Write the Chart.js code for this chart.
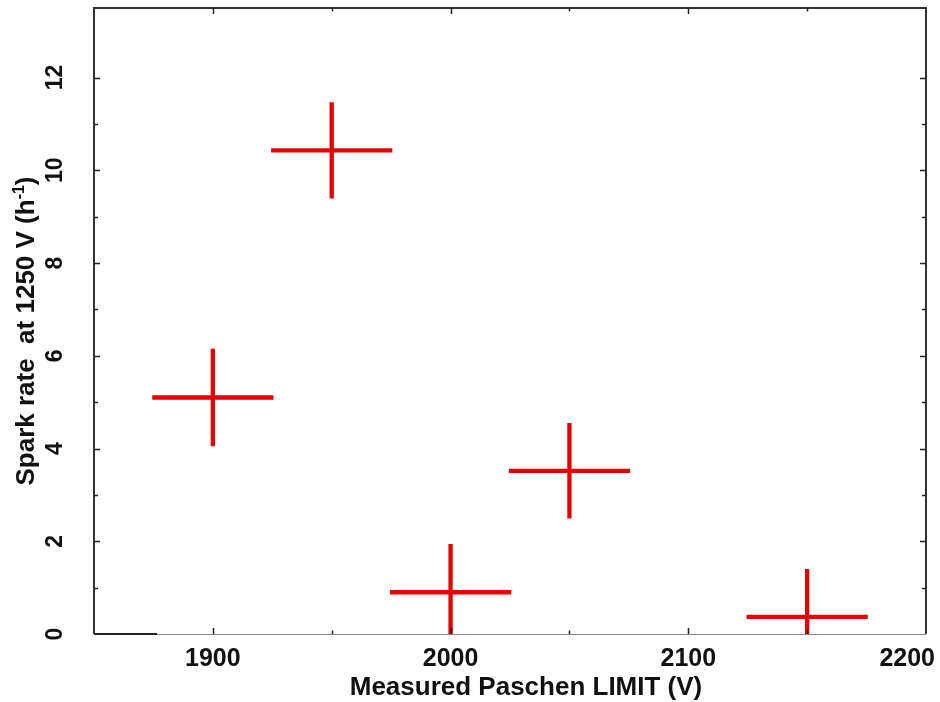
<!DOCTYPE html>
<html lang="en">
<head>
<meta charset="UTF-8">
<title>Spark rate vs measured Paschen limit</title>
<script src="https://cdn.jsdelivr.net/npm/chart.js"></script>
<style>
  html, body { margin: 0; padding: 0; background: #fff; overflow: hidden; }
  #wrap { width: 940px; height: 702px; }
</style>
</head>
<body>
<div id="wrap"><canvas id="sparkChart"></canvas></div>
<script>
// measured Paschen limit (V) against spark rate at 1250 V (per hour)
const paschenLimit = [1900, 1950, 2000, 2050, 2150];
const sparkRate = [5.1, 10.43, 0.9, 3.52, 0.37];
const limitErr = [25.5, 25.5, 25.5, 25.5, 25.5];
const rateErr = [1.05, 1.04, 1.04, 1.03, 1.03];

const xTickLabels = [1900, 2000, 2100, 2200];
const yTickLabels = [0, 2, 4, 6, 8, 10, 12];

const FONT = "'Liberation Sans', Arial, Helvetica, sans-serif";
const RED = '#e60000';
const INK = '#111';

const points = paschenLimit.map((v, i) => ({
  x: v, y: sparkRate[i], xErr: limitErr[i], yErr: rateErr[i]
}));

// crosses: horizontal bar = x error, vertical bar = y error
const errorBars = {
  id: 'errorBars',
  afterDatasetsDraw(chart) {
    const { ctx, chartArea: a, scales: { x, y } } = chart;
    ctx.save();
    ctx.beginPath();
    ctx.rect(a.left, a.top, a.right - a.left, a.bottom - a.top);
    ctx.clip();
    ctx.strokeStyle = RED;
    ctx.lineWidth = 4.3;
    ctx.lineCap = 'butt';
    chart.data.datasets[0].data.forEach(p => {
      const px = x.getPixelForValue(p.x), py = y.getPixelForValue(p.y);
      ctx.beginPath();
      ctx.moveTo(x.getPixelForValue(p.x - p.xErr), py);
      ctx.lineTo(x.getPixelForValue(p.x + p.xErr), py);
      ctx.moveTo(px, y.getPixelForValue(p.y - p.yErr));
      ctx.lineTo(px, y.getPixelForValue(p.y + p.yErr));
      ctx.stroke();
    });
    ctx.restore();
  }
};

// box frame, inward ticks, x labels and both axis titles
const frame = {
  id: 'frame',
  afterDraw(chart) {
    const { ctx, chartArea: a, scales: { x, y } } = chart;
    ctx.save();

    // bottom axis is a thin grey line with a short dark stub at the origin
    ctx.strokeStyle = '#8a8a8a';
    ctx.lineWidth = 1;
    ctx.beginPath();
    ctx.moveTo(a.left, a.bottom + 0.5);
    ctx.lineTo(a.right, a.bottom + 0.5);
    ctx.stroke();
    ctx.strokeStyle = '#222';
    ctx.lineWidth = 2;
    ctx.beginPath();
    ctx.moveTo(a.left, a.bottom);
    ctx.lineTo(x.getPixelForValue(1876.5), a.bottom);
    ctx.stroke();

    ctx.strokeStyle = '#333';
    ctx.lineWidth = 2;
    ctx.beginPath();
    ctx.moveTo(a.left, a.bottom);
    ctx.lineTo(a.left, a.top);
    ctx.lineTo(a.right, a.top);
    ctx.lineTo(a.right, a.bottom);
    ctx.stroke();

    ctx.strokeStyle = '#222';
    ctx.lineWidth = 1.5;
    ctx.beginPath();
    x.ticks.forEach(t => {
      if (t.value <= x.min || t.value >= x.max) return;
      const px = Math.round(x.getPixelForValue(t.value)) + 0.5;
      const len = xTickLabels.includes(t.value) ? 6 : 3.5;
      ctx.moveTo(px, a.bottom);
      ctx.lineTo(px, a.bottom - len);
      ctx.moveTo(px, a.top);
      ctx.lineTo(px, a.top + len);
    });
    y.ticks.forEach(t => {
      if (t.value <= y.min || t.value >= y.max) return;
      const py = Math.round(y.getPixelForValue(t.value)) + 0.5;
      const len = yTickLabels.includes(t.value) ? 6 : 4;
      ctx.moveTo(a.left, py);
      ctx.lineTo(a.left + len, py);
      ctx.moveTo(a.right, py);
      ctx.lineTo(a.right - len, py);
    });
    ctx.stroke();

    // x tick labels, the last one kept inside the canvas
    ctx.fillStyle = INK;
    ctx.font = 'bold 25px ' + FONT;
    ctx.textAlign = 'center';
    ctx.textBaseline = 'middle';
    xTickLabels.forEach(v => {
      const label = String(v);
      const w = ctx.measureText(label).width;
      const px = Math.min(x.getPixelForValue(v), chart.width - 5 - w / 2);
      ctx.fillText(label, px, a.bottom + 25);
    });

    // x title
    ctx.font = 'bold 26px ' + FONT;
    ctx.fillText('Measured Paschen LIMIT (V)', (a.left + a.right) / 2 + 16, a.bottom + 54);

    // y title with superscript unit
    const main = 'Spark rate  at 1250 V (h';
    const sup = '-1';
    const tail = ')';
    ctx.font = 'bold 26px ' + FONT;
    const w1 = ctx.measureText(main).width;
    const w3 = ctx.measureText(tail).width;
    ctx.font = 'bold 16px ' + FONT;
    const w2 = ctx.measureText(sup).width;
    const total = w1 + w2 + w3;
    ctx.translate(25, (a.top + a.bottom) / 2 + 10);
    ctx.rotate(-Math.PI / 2);
    ctx.textAlign = 'left';
    ctx.textBaseline = 'alphabetic';
    let cx = -total / 2;
    const base = 9;
    ctx.font = 'bold 26px ' + FONT;
    ctx.fillText(main, cx, base);
    cx += w1;
    ctx.font = 'bold 16px ' + FONT;
    ctx.fillText(sup, cx, base - 10);
    cx += w2;
    ctx.font = 'bold 26px ' + FONT;
    ctx.fillText(tail, cx, base);

    ctx.restore();
  }
};

new Chart(document.getElementById('sparkChart'), {
  type: 'scatter',
  data: {
    datasets: [{
      data: points,
      pointRadius: 0,
      pointHoverRadius: 0,
      showLine: false
    }]
  },
  options: {
    responsive: true,
    maintainAspectRatio: false,
    animation: false,
    layout: { padding: { top: 8, right: 14, left: 0, bottom: 0 } },
    plugins: { legend: { display: false }, tooltip: { enabled: false } },
    scales: {
      x: {
        type: 'linear',
        min: 1850,
        max: 2200,
        grid: { display: false },
        border: { display: false },
        ticks: { stepSize: 50, display: false },
        afterFit(s) { s.height = 68; s.paddingLeft = 0; s.paddingRight = 0; }
      },
      y: {
        type: 'linear',
        min: 0,
        max: 13.5,
        grid: { display: false },
        border: { display: false },
        ticks: {
          stepSize: 1,
          minRotation: 90,
          maxRotation: 90,
          crossAlign: 'center',
          padding: 18,
          color: INK,
          font: { family: FONT, size: 23, weight: 'bold' },
          callback: v => (yTickLabels.includes(v) ? String(v) : '')
        },
        afterFit(s) { s.width = 94; s.paddingTop = 0; s.paddingBottom = 0; }
      }
    }
  },
  plugins: [errorBars, frame]
});
</script>
</body>
</html>
